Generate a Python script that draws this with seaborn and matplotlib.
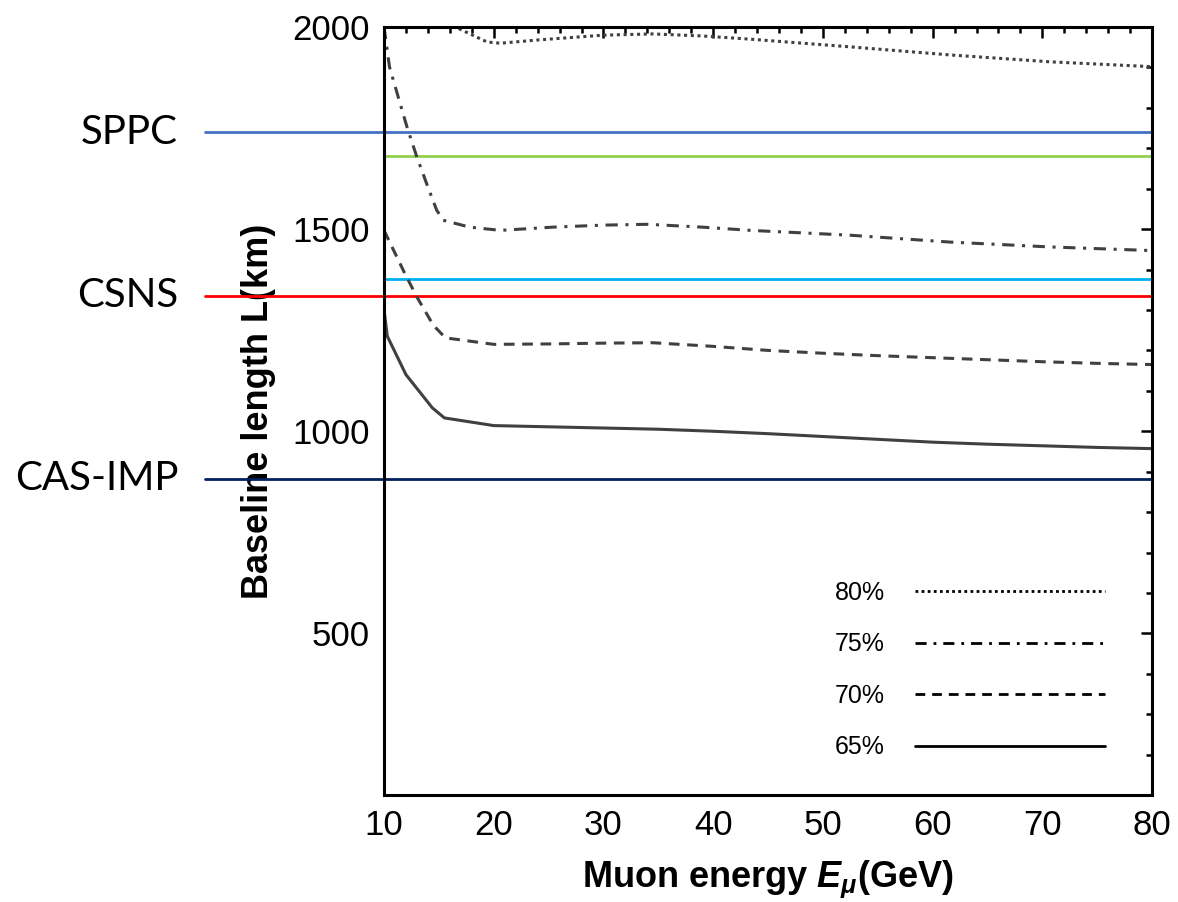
import numpy as np
import pandas as pd
import matplotlib
matplotlib.use("Agg")
import matplotlib.pyplot as plt
import seaborn as sns
from matplotlib.ticker import MultipleLocator
import matplotlib.transforms as mtransforms

# ---------------- data ----------------
e65 = [10, 10.3, 12, 14.4, 15.5, 20, 25, 30, 35, 40, 45, 50, 55, 60, 65, 70, 75, 80]
l65 = [1300, 1235, 1140, 1058, 1033, 1014, 1011, 1008, 1005, 1000, 994, 987, 980, 973, 968, 964, 960, 957]

e70 = [10, 11.9, 13, 14.5, 15.6, 20, 25, 30, 34.5, 40, 45, 50, 55, 60, 65, 70, 75, 80]
l70 = [1497, 1390, 1332, 1262, 1231, 1215, 1216, 1218, 1219, 1210, 1200, 1193, 1187, 1182, 1177, 1172, 1168, 1165]

e75 = [10, 10.5, 12.1, 13, 14, 14.8, 15.4, 17.8, 20.6, 25.4, 30, 34, 39, 43.4, 52.5, 61.6, 70.7, 80]
l75 = [2000, 1901, 1752, 1678, 1604, 1547, 1522, 1505, 1497, 1505, 1510, 1512, 1505, 1497, 1485, 1468, 1456, 1447]

e80 = [14, 16.9, 19.4, 20.6, 24, 30, 34.5, 39, 43.4, 52.5, 61.6, 70.7, 80]
l80 = [2060, 1995, 1963, 1960, 1968, 1980, 1983, 1978, 1970, 1951, 1931, 1914, 1902]

series_labels = ["80%", "75%", "70%", "65%"]

ref_names = ["SPPC", "", "", "CSNS", "CAS-IMP"]
ref_values = [1740, 1680, 1377, 1335, 882]
ref_colors = ["#4472C4", "#92D050", "#00B0F0", "#FF0000", "#002060"]
ref_extend = [True, False, False, True, True]

# ---------------- plot ----------------
sns.set_style("white")
plt.rcParams["font.family"] = ["Liberation Sans", "DejaVu Sans"]
plt.rcParams["text.color"] = "black"
plt.rcParams["axes.labelcolor"] = "black"
plt.rcParams["mathtext.fontset"] = "custom"
plt.rcParams["mathtext.it"] = "Liberation Sans:italic:bold"
plt.rcParams["mathtext.rm"] = "Liberation Sans:bold"

fig = plt.figure(figsize=(11.78, 9.02), dpi=100)
ax = fig.add_axes([0.326, 0.1186, 0.652, 0.8514])

curve_color = "#404040"
styles = {
    "80%": (e80, l80, (1, 1.2)),
    "75%": (e75, l75, (4, 2.5, 1, 2.5)),
    "70%": (e70, l70, (3.5, 2.5)),
    "65%": (e65, l65, None),
}
for lab in series_labels:
    xs, ys, dash = styles[lab]
    df = pd.DataFrame({"E": xs, "L": ys})
    kw = {}
    if dash is not None:
        kw["dashes"] = dash
    sns.lineplot(data=df, x="E", y="L", ax=ax, color=curve_color, lw=2.2,
                 label=lab, sort=False, **kw)

trans = mtransforms.blended_transform_factory(ax.transAxes, ax.transData)
for name, val, col, ext in zip(ref_names, ref_values, ref_colors, ref_extend):
    xmin = -0.233 if ext else 0.0
    ax.axhline(val, xmin=xmin, xmax=1.0, color=col, lw=2.0, clip_on=False, zorder=1)
    if name:
        ax.text(-0.268, val, name, transform=trans, ha="right", va="center",
                fontsize=29, family=["Lato", "DejaVu Sans"], color="black")

ax.set_xlim(10, 80)
ax.set_ylim(100, 2000)
ax.xaxis.set_major_locator(MultipleLocator(10))
ax.xaxis.set_minor_locator(MultipleLocator(2))
ax.yaxis.set_major_locator(MultipleLocator(500))
ax.yaxis.set_minor_locator(MultipleLocator(100))
ax.set_yticks([500, 1000, 1500, 2000])
ax.tick_params(which="both", direction="in", top=True, right=True, width=1.8,
               labelsize=25, colors="black")
ax.tick_params(which="major", length=8, pad=10)
ax.tick_params(which="minor", length=4)
for sp in ax.spines.values():
    sp.set_linewidth(2.2)
    sp.set_color("black")

ax.set_xlabel(r"Muon energy $E_\mu$(GeV)", fontsize=26, fontweight="bold", labelpad=12)
ax.set_ylabel("Baseline length L(km)", fontsize=26, fontweight="bold", labelpad=12)

handles, labels = ax.get_legend_handles_labels()
leg = ax.legend(handles, labels, loc="lower right", bbox_to_anchor=(0.968, 0.017),
                frameon=False, markerfirst=False, fontsize=18, handlelength=7.6,
                labelspacing=1.1, handletextpad=1.2)
for ln in leg.get_lines():
    ln.set_color("black")
    ln.set_linewidth(2.0)
for t in leg.get_texts():
    t.set_color("black")

fig.savefig("out.png", dpi=100, facecolor="white")
